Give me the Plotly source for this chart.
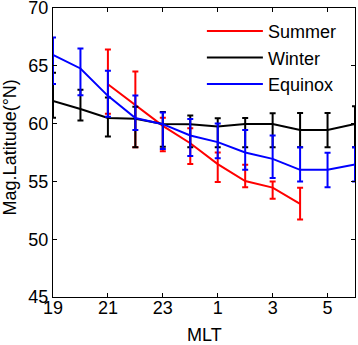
import plotly.graph_objects as go

# MLT hours (24+ means after midnight: 25 -> 1, 26 -> 2, ...)
mlt_all = [19, 20, 21, 22, 23, 24, 25, 26, 27, 28, 29, 30]
mlt_summer = [21, 22, 23, 24, 25, 26, 27, 28]

summer_val = [63.4, 61.6, 59.8, 58.3, 56.5, 55.03, 54.46, 53.05]
summer_hi = [66.4, 64.5, 60.5, 59.6, 57.5, 56.45, 55.0, 54.46]
summer_lo = [60.85, 57.95, 57.6, 56.5, 54.95, 54.5, 53.5, 51.7]

winter_val = [61.95, 61.26, 60.49, 60.42, 59.97, 59.95, 59.74, 59.97, 59.97, 59.45, 59.45, 59.97]
winter_hi = [64.4, 62.93, 62.25, 61.45, 61.0, 60.7, 60.47, 60.49, 60.9, 60.92, 60.92, 61.5]
winter_lo = [60.5, 60.26, 58.88, 57.95, 58.0, 57.95, 57.96, 57.96, 57.96, 57.96, 57.96, 57.96]

equinox_val = [65.95, 64.77, 62.4, 60.48, 59.95, 58.97, 58.4, 57.5, 56.95, 56.0, 56.0, 56.47]
equinox_hi = [67.44, 66.5, 64.57, 62.42, 60.95, 60.4, 60.0, 59.45, 58.97, 57.96, 57.47, 57.96]
equinox_lo = [63.42, 62.45, 60.6, 59.45, 57.8, 57.2, 57.0, 56.0, 55.3, 55.0, 54.5, 55.0]

x_tickvals = [19, 21, 23, 25, 27, 29]
x_ticktext = ["19", "21", "23", "1", "3", "5"]
y_tickvals = [45, 50, 55, 60, 65, 70]

FONT = "Liberation Sans, Arial, sans-serif"


def series(name, x, val, hi, lo, color):
    return go.Scatter(
        x=x, y=val, name=name, mode="lines",
        line=dict(color=color, width=2),
        error_y=dict(
            type="data", symmetric=False,
            array=[h - v for h, v in zip(hi, val)],
            arrayminus=[v - l for v, l in zip(val, lo)],
            color=color, thickness=2, width=3,
        ),
    )


fig = go.Figure()
fig.add_trace(series("Summer", mlt_summer, summer_val, summer_hi, summer_lo, "#ff0000"))
fig.add_trace(series("Winter", mlt_all, winter_val, winter_hi, winter_lo, "#000000"))
fig.add_trace(series("Equinox", mlt_all, equinox_val, equinox_hi, equinox_lo, "#0000ff"))

axis_common = dict(
    showline=True, linecolor="black", linewidth=1, mirror="ticks",
    ticks="inside", ticklen=4, tickcolor="black", tickwidth=1,
    showgrid=False, zeroline=False, ticklabeloverflow="allow",
    automargin=False,
    tickfont=dict(family=FONT, size=18, color="black"),
)

fig.update_layout(
    width=358, height=345,
    margin=dict(l=53, r=3, t=8, b=48, autoexpand=False),
    paper_bgcolor="white", plot_bgcolor="white",
    font=dict(family=FONT, size=18, color="black"),
    xaxis=dict(range=[19, 30], tickvals=x_tickvals, ticktext=x_ticktext,
               ticklabelstandoff=-6, **axis_common),
    yaxis=dict(range=[45, 70], tickvals=y_tickvals, **axis_common),
    legend=dict(x=0.493, y=0.983, xanchor="left", yanchor="top",
                bgcolor="rgba(0,0,0,0)", borderwidth=0, itemwidth=56,
                font=dict(family=FONT, size=18, color="black"),
                tracegroupgap=0),
    showlegend=True,
    annotations=[
        dict(text="Mag.Latitude(°N)", textangle=-90, showarrow=False,
             xref="paper", yref="paper", x=-0.143, y=0.517,
             xanchor="center", yanchor="middle",
             font=dict(family=FONT, size=18, color="black")),
        dict(text="MLT", showarrow=False,
             xref="paper", yref="paper", x=0.5, y=-0.131,
             xanchor="center", yanchor="middle",
             font=dict(family=FONT, size=18, color="black")),
    ],
)

fig.write_html("out.html", config={"displayModeBar": False},
               post_script="document.body.style.margin='0';")
